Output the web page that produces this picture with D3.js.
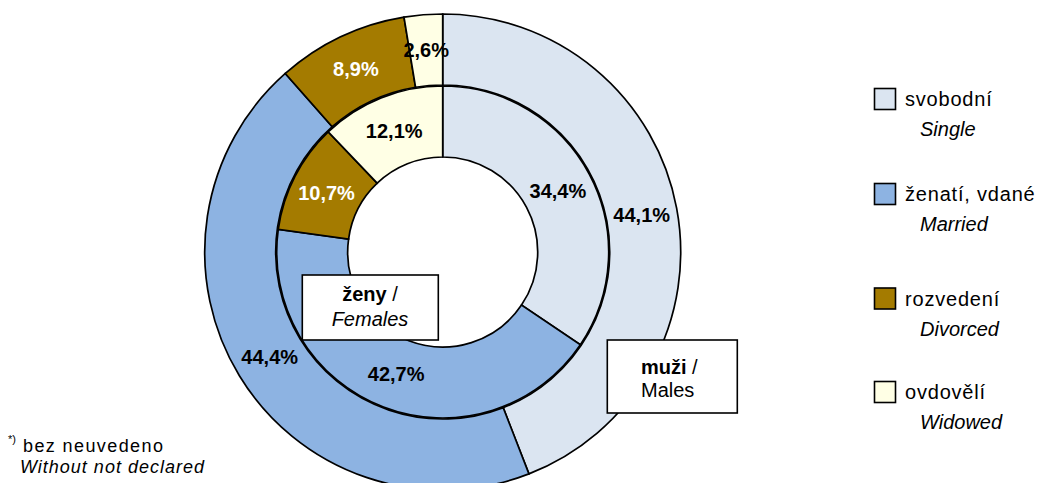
<!DOCTYPE html>
<html>
<head>
<meta charset="utf-8">
<script src="https://cdn.jsdelivr.net/npm/d3@7"></script>
<style>
  html, body { margin: 0; padding: 0; background: #fff; }
  svg { display: block; font-family: "Liberation Sans", Arial, sans-serif; }
</style>
</head>
<body>
<svg id="chart" width="1039" height="483"></svg>
<script>
// ---- data ----
const categories = ["svobodní", "ženatí, vdané", "rozvedení", "ovdovělí"];
const categoriesEn = ["Single", "Married", "Divorced", "Widowed"];
const males = [44.1, 44.4, 8.9, 2.6];     // outer ring (muži / Males)
const females = [34.4, 42.7, 10.7, 12.1]; // inner ring (ženy / Females)
const colors = ["#DBE5F1", "#8DB3E2", "#A47B00", "#FFFFE5"];
const labelColors = ["#000", "#000", "#fff", "#000"];

// ---- layout ----
const svg = d3.select("#chart");
const cx = 442.7, cy = 252;
const rHole = 95, rMid = 166, rOuter = 238;

const pie = d3.pie().sort(null).value(d => d.v);
const fmt = v => d3.format(".1f")(v).replace(".", ",") + "%";

function ring(values, r0, r1) {
  const data = values.map((v, i) => ({ v, i }));
  const arcs = pie(data);
  const arc = d3.arc().innerRadius(r0).outerRadius(r1);
  const g = svg.append("g").attr("transform", `translate(${cx},${cy})`);
  g.selectAll("path").data(arcs).join("path")
    .attr("d", arc)
    .attr("fill", d => colors[d.data.i])
    .attr("stroke", "#000")
    .attr("stroke-width", 1.7)
    .attr("stroke-linejoin", "miter");
  g.selectAll("text").data(arcs).join("text")
    .attr("transform", d => `translate(${arc.centroid(d)})`)
    .attr("text-anchor", "middle")
    .attr("dy", "0.36em")
    .attr("font-size", 20)
    .attr("font-weight", "bold")
    .attr("fill", d => labelColors[d.data.i])
    .text(d => fmt(d.data.v));
}

ring(males, rMid + 1, rOuter);
ring(females, rHole, rMid);

// ---- series boxes ----
function box(x, y, w, h) {
  svg.append("rect").attr("x", x).attr("y", y).attr("width", w).attr("height", h)
    .attr("fill", "#fff").attr("stroke", "#000").attr("stroke-width", 1.6);
}
box(302.3, 275, 136, 65);
const t1 = svg.append("text").attr("x", 370).attr("y", 301).attr("text-anchor", "middle").attr("font-size", 20);
t1.append("tspan").attr("font-weight", "bold").text("ženy");
t1.append("tspan").text(" /");
svg.append("text").attr("x", 370).attr("y", 326).attr("text-anchor", "middle")
  .attr("font-size", 20).attr("font-style", "italic").text("Females");

box(607.3, 340, 130, 73);
const t2 = svg.append("text").attr("x", 641).attr("y", 374).attr("font-size", 20);
t2.append("tspan").attr("font-weight", "bold").text("muži");
t2.append("tspan").text(" /");
svg.append("text").attr("x", 641).attr("y", 397).attr("font-size", 20).text("Males");

// ---- legend ----
const legendTop = [88.5, 183.5, 288, 381.5];
const lg = svg.append("g");
categories.forEach((c, i) => {
  const y = legendTop[i];
  lg.append("rect").attr("x", 874.5).attr("y", y).attr("width", 21).attr("height", 21)
    .attr("fill", colors[i]).attr("stroke", "#000").attr("stroke-width", 1.6);
  lg.append("text").attr("x", 905).attr("y", y + 17.5).attr("font-size", 20)
    .attr("letter-spacing", 0.8).text(c);
  lg.append("text").attr("x", 920).attr("y", y + 47.5).attr("font-size", 20)
    .attr("font-style", "italic").text(categoriesEn[i]);
});

// ---- footnote ----
svg.append("text").attr("x", 8).attr("y", 443).attr("font-size", 11).text("*)");
svg.append("text").attr("x", 23).attr("y", 452).attr("font-size", 18).attr("letter-spacing", 1.4).text("bez neuvedeno");
svg.append("text").attr("x", 20).attr("y", 473).attr("font-size", 18).attr("font-style", "italic").attr("letter-spacing", 1).text("Without not declared");
</script>
</body>
</html>
